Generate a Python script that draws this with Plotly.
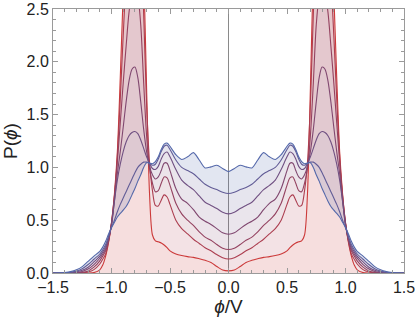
import plotly.graph_objects as go

# right half of the distributions (phi >= 0); the picture is symmetric about phi = 0
phi_half = [0, 0.05, 0.1, 0.15, 0.2, 0.25, 0.3, 0.35, 0.4, 0.45, 0.5, 0.525, 0.55, 0.575,
            0.6, 0.625, 0.65, 0.675, 0.7, 0.725, 0.75, 0.775, 0.8, 0.825, 0.85, 0.875,
            0.9, 0.925, 0.95, 0.975, 1.0, 1.025, 1.05, 1.075, 1.1, 1.15, 1.2, 1.25,
            1.3, 1.35, 1.4, 1.45, 1.5]

p0 = [0.96, 0.99, 1.02, 1.005, 0.995, 1.07, 1.14, 1.10, 1.075, 1.12, 1.2, 1.23, 1.22, 1.17,
      1.1, 1.055, 1.035, 1.04, 1.045, 1.0, 0.93, 0.87, 0.8, 0.74, 0.68, 0.63,
      0.595, 0.565, 0.53, 0.48, 0.43, 0.37, 0.30, 0.245, 0.205, 0.16, 0.11, 0.06,
      0.03, 0.013, 0.005, 0.001, 0.0]
p1 = [0.753, 0.765, 0.79, 0.81, 0.84, 0.89, 0.94, 0.97, 1.0, 1.07, 1.17, 1.21, 1.2, 1.15,
      1.08, 1.03, 1.02, 1.04, 1.05, 1.05, 1.03, 1.0, 0.95, 0.89, 0.83, 0.77,
      0.71, 0.65, 0.58, 0.5, 0.43, 0.35, 0.27, 0.22, 0.18, 0.13, 0.08, 0.04,
      0.018, 0.007, 0.002, 0.0, 0.0]
p2 = [0.56, 0.575, 0.61, 0.64, 0.67, 0.73, 0.79, 0.83, 0.88, 0.98, 1.1, 1.145, 1.13, 1.08,
      1.01, 0.98, 0.99, 1.04, 1.1, 1.18, 1.26, 1.32, 1.34, 1.33, 1.3, 1.24,
      1.15, 1.03, 0.88, 0.68, 0.45, 0.33, 0.25, 0.2, 0.16, 0.105, 0.055, 0.025,
      0.01, 0.003, 0.001, 0.0, 0.0]
p3 = [0.367, 0.38, 0.42, 0.46, 0.49, 0.53, 0.6, 0.66, 0.7, 0.8, 0.97, 1.04, 1.04, 0.97,
      0.91, 0.89, 0.93, 1.01, 1.15, 1.36, 1.62, 1.85, 1.95, 1.93, 1.82, 1.62,
      1.38, 1.15, 0.94, 0.68, 0.46, 0.32, 0.23, 0.18, 0.14, 0.08, 0.037, 0.014,
      0.004, 0.001, 0.0, 0.0, 0.0]
p4 = [0.222, 0.235, 0.27, 0.31, 0.34, 0.39, 0.45, 0.5, 0.56, 0.66, 0.83, 0.9, 0.91, 0.85,
      0.78, 0.77, 0.85, 0.99, 1.3, 1.8, 2.35, 2.62, 2.7, 2.65, 2.47, 2.15,
      1.8, 1.42, 1.05, 0.72, 0.47, 0.31, 0.21, 0.16, 0.115, 0.055, 0.02, 0.006,
      0.001, 0.0, 0.0, 0.0, 0.0]
p5 = [0.133, 0.145, 0.175, 0.21, 0.24, 0.28, 0.32, 0.37, 0.42, 0.5, 0.65, 0.72, 0.74, 0.69,
      0.635, 0.64, 0.78, 1.05, 1.6, 2.45, 3.15, 3.55, 3.7, 3.6, 3.25, 2.8,
      2.25, 1.65, 1.1, 0.73, 0.48, 0.3, 0.18, 0.13, 0.085, 0.032, 0.009, 0.002,
      0.0, 0.0, 0.0, 0.0, 0.0]
p6 = [0.02, 0.028, 0.062, 0.1, 0.12, 0.135, 0.148, 0.155, 0.165, 0.18, 0.21, 0.24, 0.265, 0.285,
      0.295, 0.305, 0.36, 0.75, 1.75, 2.9, 3.8, 4.4, 4.6, 4.45, 3.95, 3.3,
      2.65, 1.85, 1.15, 0.75, 0.47, 0.29, 0.16, 0.075, 0.03, 0.004, 0.0, 0.0,
      0.0, 0.0, 0.0, 0.0, 0.0]

curves = [p0, p1, p2, p3, p4, p5, p6]
line_colors = ["#5468aa", "#625c96", "#705082", "#804870", "#944260", "#ac3e50", "#cc3a3a"]
fill_colors = ["rgba(84,104,170,0.17)", "rgba(98,92,150,0.16)", "rgba(112,80,130,0.15)",
               "rgba(128,72,112,0.15)", "rgba(148,66,96,0.15)", "rgba(172,62,80,0.15)",
               "rgba(204,58,58,0.17)"]

x_ticks = [-1.5, -1.0, -0.5, 0.0, 0.5, 1.0, 1.5]
y_ticks = [0.0, 0.5, 1.0, 1.5, 2.0, 2.5]


def mirror(vals):
    return [v for v in vals[:0:-1]] + list(vals)


phi = [-v for v in phi_half[:0:-1]] + phi_half

fig = go.Figure()
# lowest-at-centre curve first, each band filled to the curve below it
for i in range(len(curves) - 1, -1, -1):
    fig.add_trace(go.Scatter(
        x=phi, y=mirror(curves[i]),
        mode="lines",
        line=dict(color=line_colors[i], width=1.1, shape="spline", smoothing=0.8),
        fill="tozeroy" if i == len(curves) - 1 else "tonexty",
        fillcolor=fill_colors[i],
        showlegend=False,
    ))

axis_col = "#9a9a9a"
font = dict(family="Liberation Sans, Arial, sans-serif", size=16, color="#222")

fig.update_layout(
    width=415, height=322,
    margin=dict(l=53, r=11, t=9, b=49),
    plot_bgcolor="white", paper_bgcolor="white",
    font=font,
    xaxis=dict(
        range=[-1.5, 1.5], showgrid=False, automargin=False,
        zeroline=True, zerolinecolor="#8a8a8a", zerolinewidth=1,
        showline=True, linecolor=axis_col, linewidth=1, mirror="allticks",
        ticks="inside", ticklen=5, tickcolor=axis_col,
        tickvals=x_ticks, ticktext=[f"{v:.1f}".replace("-", "\u2212") for v in x_ticks],
        ticklabeloverflow="allow",
        minor=dict(ticks="inside", ticklen=3, tickcolor=axis_col, dtick=0.1, tick0=0),
        title=dict(text="<i>ϕ</i>/V", standoff=4),
    ),
    yaxis=dict(
        range=[0, 2.5], showgrid=False, zeroline=False, automargin=False,
        showline=True, linecolor=axis_col, linewidth=1, mirror="allticks",
        ticks="inside", ticklen=5, tickcolor=axis_col,
        tickvals=y_ticks, ticktext=[f"{v:.1f}" for v in y_ticks],
        ticklabeloverflow="allow",
        minor=dict(ticks="inside", ticklen=3, tickcolor=axis_col, dtick=0.1, tick0=0),
        title=dict(text="P(<i>ϕ</i>)", standoff=8),
    ),
)

# page has a default 8px body margin; drop it so the figure sits at the window corner
fig.write_html("out.html", config={"displayModeBar": False},
               post_script="document.body.style.margin='0';")
